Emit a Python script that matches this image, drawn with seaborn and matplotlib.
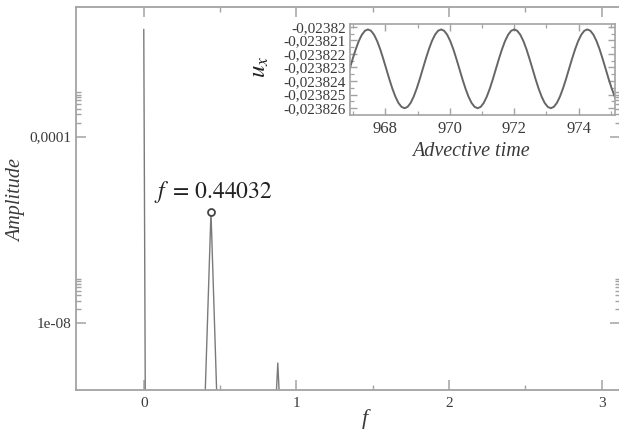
import matplotlib
matplotlib.use('Agg')
import matplotlib.pyplot as plt
import seaborn as sns
from matplotlib.ticker import FixedLocator, FixedFormatter, NullFormatter

# ---------------- data ----------------
# spectrum (frequency, amplitude)
spec_freq = [0.0, 0.013, 0.378, 0.44032, 0.502, 0.832, 0.878, 0.924, 3.2]
spec_amp = [2.0e-2, 1e-12, 1e-12, 2.45e-6, 1e-12, 1e-12, 1.4e-9, 1e-12, 1e-12]
peak_freq = [0.44032]
peak_amp = [2.45e-6]
peak_label = r"$f\;=\,0.44032$"

x_major = [0, 1, 2, 3]
x_major_labels = ["0", "1", "2", "3"]
x_minor = [0.5, 1.5, 2.5]
y_major = [1e-4, 1e-8]
y_major_labels = ["0,0001", "1e-08"]
y_minor = [2e-4, 3e-4, 4e-4, 5e-4, 6e-4, 7e-4, 8e-4, 9e-4,
           2e-8, 3e-8, 4e-8, 5e-8, 6e-8, 7e-8, 8e-8, 9e-8]

# inset time series (advective time, u_x)
adv_time = [966.796, 966.891, 966.985, 967.080, 967.174, 967.269, 967.363,
            967.458, 967.553, 967.647, 967.742, 967.837, 967.931, 968.026, 968.120,
            968.215, 968.310, 968.404, 968.499, 968.594, 968.688, 968.783, 968.877,
            968.972, 969.067, 969.161, 969.256, 969.351, 969.445, 969.540, 969.634,
            969.729, 969.824, 969.918, 970.013, 970.108, 970.202, 970.297, 970.391,
            970.486, 970.581, 970.675, 970.770, 970.865, 970.959, 971.054, 971.148,
            971.243, 971.338, 971.432, 971.527, 971.622, 971.716, 971.811, 971.905,
            972.000, 972.095, 972.189, 972.284, 972.379, 972.473, 972.568, 972.662,
            972.757, 972.852, 972.946, 973.041, 973.136, 973.230, 973.325, 973.419,
            973.514, 973.609, 973.703, 973.798, 973.893, 973.987, 974.082, 974.176,
            974.271, 974.366, 974.460, 974.555, 974.650, 974.744, 974.839, 974.933,
            975.028, 975.123, 975.217]
ux = [-0.02382385, -0.0238231, -0.02382235, -0.02382165, -0.02382105, -0.02382059, -0.0238203,
      -0.0238202, -0.0238203, -0.02382059, -0.02382105, -0.02382165, -0.02382235, -0.0238231,
      -0.02382385, -0.02382455, -0.02382515, -0.02382561, -0.0238259, -0.0238260, -0.0238259,
      -0.02382561, -0.02382515, -0.02382455, -0.02382385, -0.0238231, -0.02382235, -0.02382165,
      -0.02382105, -0.02382059, -0.0238203,
      -0.0238202, -0.0238203, -0.02382059, -0.02382105, -0.02382165, -0.02382235, -0.0238231,
      -0.02382385, -0.02382455, -0.02382515, -0.02382561, -0.0238259, -0.0238260, -0.0238259,
      -0.02382561, -0.02382515, -0.02382455, -0.02382385, -0.0238231, -0.02382235, -0.02382165,
      -0.02382105, -0.02382059, -0.0238203,
      -0.0238202, -0.0238203, -0.02382059, -0.02382105, -0.02382165, -0.02382235, -0.0238231,
      -0.02382385, -0.02382455, -0.02382515, -0.02382561, -0.0238259, -0.0238260, -0.0238259,
      -0.02382561, -0.02382515, -0.02382455, -0.02382385, -0.0238231, -0.02382235, -0.02382165,
      -0.02382105, -0.02382059, -0.0238203,
      -0.0238202, -0.0238203, -0.02382059, -0.02382105, -0.02382165, -0.02382235, -0.0238231,
      -0.02382385, -0.02382455, -0.02382515, -0.02382561]

in_x_major = [968, 970, 972, 974]
in_x_labels = ["968", "970", "972", "974"]
in_x_minor = [967, 969, 971, 973, 975]
in_y_major = [-0.02382, -0.023821, -0.023822, -0.023823, -0.023824, -0.023825, -0.023826]
in_y_labels = ["-0,02382", "-0,023821", "-0,023822", "-0,023823",
               "-0,023824", "-0,023825", "-0,023826"]
in_y_minor = [-0.0238205, -0.0238215, -0.0238225, -0.0238235, -0.0238245, -0.0238255]

# ---------------- style ----------------
sns.set_theme(style="ticks")
plt.rcParams['font.family'] = ['Liberation Serif', 'DejaVu Serif']
plt.rcParams['mathtext.fontset'] = 'stix'

SPINE = '#a3a3a3'
TEXT = '#3a3a3a'

fig = plt.figure(figsize=(6.19, 4.30), dpi=100)
fig.patch.set_facecolor('white')

# main axes
ax = fig.add_axes([76/619, 1-390/430, (620-76)/619, (390-6.7)/430])
sns.lineplot(x=spec_freq, y=spec_amp, ax=ax, color='#7a7a7a', lw=1.0,
             estimator=None, sort=False)
ax.set_yscale('log')
ax.set_xlim(-0.444, 3.12)
ax.set_ylim(3.7e-10, 0.0612)
ax.plot(peak_freq, peak_amp, 'o', mfc='white', mec='#444444', ms=5, mew=1.3, zorder=5)
ax.text(0.458, 6.6e-6, peak_label, ha='center', va='center', fontsize=17, color='#222222')

ax.xaxis.set_major_locator(FixedLocator(x_major))
ax.xaxis.set_major_formatter(FixedFormatter(x_major_labels))
ax.xaxis.set_minor_locator(FixedLocator(x_minor))
ax.yaxis.set_major_locator(FixedLocator(y_major))
ax.yaxis.set_major_formatter(FixedFormatter(y_major_labels))
ax.yaxis.set_minor_locator(FixedLocator(y_minor))
ax.yaxis.set_minor_formatter(NullFormatter())
ax.tick_params(which='both', direction='in', top=True, right=True, color=SPINE,
               labelcolor=TEXT, labelsize=11)
ax.tick_params(which='major', length=7.5, width=1.1)
ax.tick_params(which='minor', length=3.8, width=1.0)
ax.tick_params(axis='x', which='major', pad=5)
ax.tick_params(axis='y', which='major', pad=3)
for s in ax.spines.values():
    s.set_color(SPINE)
    s.set_linewidth(1.3)
ax.set_xlabel('')
ax.set_ylabel('')

fig.text(17/619, 1-201/430, 'Amplitude', rotation=90, ha='center', va='center',
         fontsize=14.5, fontstyle='italic', color=TEXT)
fig.text(365/619, 1-419/430, 'f', ha='center', va='center',
         fontsize=16, fontstyle='italic', color=TEXT)

# inset
ins = fig.add_axes([350/619, 1-115/430, (615-350)/619, (115-24)/430])
ins.set_facecolor('white')
sns.lineplot(x=adv_time, y=ux, ax=ins, color='#666666', lw=1.4,
             estimator=None, sort=False)
ins.set_xlim(966.9, 975.13)
ins.set_ylim(-0.0238265, -0.0238198)
ins.xaxis.set_major_locator(FixedLocator(in_x_major))
ins.xaxis.set_major_formatter(FixedFormatter(in_x_labels))
ins.xaxis.set_minor_locator(FixedLocator(in_x_minor))
ins.yaxis.set_major_locator(FixedLocator(in_y_major))
ins.yaxis.set_major_formatter(FixedFormatter(in_y_labels))
ins.yaxis.set_minor_locator(FixedLocator(in_y_minor))
ins.tick_params(which='both', direction='in', top=True, right=True, color=SPINE,
                labelcolor=TEXT)
ins.tick_params(which='major', length=5, width=1.0)
ins.tick_params(which='minor', length=2.8, width=0.9)
ins.tick_params(axis='y', labelsize=11, pad=3)
ins.tick_params(axis='x', labelsize=12, pad=4)
for s in ins.spines.values():
    s.set_color(SPINE)
    s.set_linewidth(1.2)
ins.set_xlabel('')
ins.set_ylabel('')

fig.text(471/619, 1-152/430, 'Advective time', ha='center', va='center',
         fontsize=14.5, fontstyle='italic', color=TEXT)
fig.text(260/619, 1-67/430, '$u_x$', rotation=90, ha='center', va='center',
         fontsize=18, color='#222222')

fig.savefig('out.png', dpi=100)
